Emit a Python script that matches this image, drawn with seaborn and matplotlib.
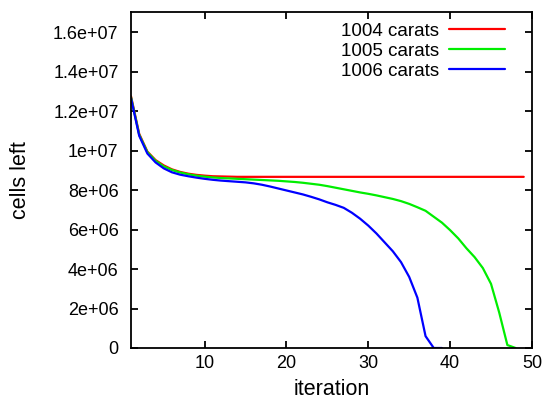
import pandas as pd
import seaborn as sns
import matplotlib.pyplot as plt
from matplotlib.ticker import FuncFormatter

# cells left per iteration (millions)
red_1004 = [12.75, 10.85, 9.95, 9.52, 9.25, 9.05, 8.92, 8.83, 8.77, 8.73,
            8.70, 8.69, 8.68, 8.67, 8.67, 8.67, 8.67, 8.67, 8.67, 8.67,
            8.67, 8.67, 8.67, 8.67, 8.67, 8.67, 8.67, 8.67, 8.67, 8.67,
            8.67, 8.67, 8.67, 8.67, 8.67, 8.67, 8.67, 8.67, 8.67, 8.67,
            8.67, 8.67, 8.67, 8.67, 8.67, 8.67, 8.67, 8.67, 8.67]
green_1005 = [12.70, 10.80, 9.92, 9.48, 9.20, 9.02, 8.89, 8.80, 8.73, 8.68,
              8.64, 8.61, 8.59, 8.57, 8.55, 8.53, 8.51, 8.49, 8.47, 8.44,
              8.41, 8.37, 8.32, 8.27, 8.20, 8.12, 8.04, 7.96, 7.88, 7.81,
              7.73, 7.64, 7.55, 7.44, 7.30, 7.13, 6.95, 6.65, 6.35, 5.97,
              5.55, 5.05, 4.60, 4.05, 3.25, 1.80, 0.15, 0.0]
blue_1006 = [12.65, 10.75, 9.85, 9.40, 9.10, 8.90, 8.78, 8.70, 8.63, 8.57,
             8.52, 8.48, 8.45, 8.42, 8.39, 8.34, 8.27, 8.18, 8.08, 7.98,
             7.88, 7.78, 7.66, 7.53, 7.38, 7.25, 7.10, 6.85, 6.55, 6.20,
             5.80, 5.35, 4.90, 4.35, 3.60, 2.55, 0.60, 0.0, 0.0]

series = {'1004 carats': red_1004, '1005 carats': green_1005, '1006 carats': blue_1006}
colors = {'1004 carats': '#ff0000', '1005 carats': '#00ee00', '1006 carats': '#0000ff'}

rows = []
for name, vals in series.items():
    for i, v in enumerate(vals):
        rows.append({'iteration': i + 1, 'cells': v * 1e6, 'run': name})
df = pd.DataFrame(rows)

sns.set_style('ticks')
plt.rcParams['font.family'] = ['Liberation Sans', 'DejaVu Sans']
plt.rcParams['text.color'] = 'black'
plt.rcParams['axes.labelcolor'] = 'black'
plt.rcParams['xtick.direction'] = 'in'
plt.rcParams['ytick.direction'] = 'in'

fig, ax = plt.subplots(figsize=(5.45, 4), dpi=100)
fig.subplots_adjust(left=0.2404, right=0.976, bottom=0.13, top=0.969)

sns.lineplot(data=df, x='iteration', y='cells', hue='run', palette=colors,
             linewidth=1.6, ax=ax)

ax.set_xlim(1, 50)
ax.set_ylim(0, 1.7e7)
ax.set_xticks([10, 20, 30, 40, 50])
ax.set_yticks([0, 2e6, 4e6, 6e6, 8e6, 1e7, 1.2e7, 1.4e7, 1.6e7])
ax.yaxis.set_major_formatter(FuncFormatter(lambda v, p: '%g' % v))
# gnuplot look: inward ticks mirrored on all four sides
ax.tick_params(axis='both', which='major', labelsize=13, length=5, width=1.3,
               direction='in', color='black', labelcolor='black',
               top=True, right=True, bottom=True, left=True)
ax.tick_params(axis='x', pad=5)
ax.tick_params(axis='y', pad=9)
for s in ax.spines.values():
    s.set_visible(True)
    s.set_color('black')
    s.set_linewidth(1.3)

ax.set_xlabel('iteration', fontsize=15.5, labelpad=5)
ax.set_ylabel('cells left', fontsize=15.5, labelpad=16)

ax.legend(loc='upper right', markerfirst=False, frameon=False, fontsize=13.5,
          handlelength=3.0, labelspacing=0.15, handletextpad=0.5,
          bbox_to_anchor=(0.975, 1.02))

plt.savefig('out.png', dpi=100)
